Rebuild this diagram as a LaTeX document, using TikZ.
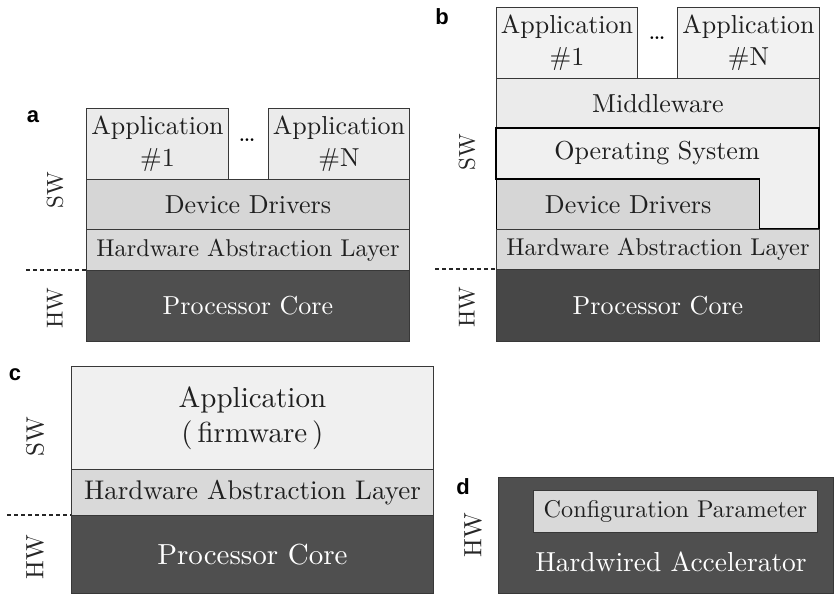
\documentclass[tikz,border=0pt]{standalone}
\usepackage{fontspec}
\setmainfont{lmroman10-regular.otf}
\newfontfamily\panelfont{Liberation Sans}
\newcommand{\fs}[1]{\fontsize{#1}{1.25\dimexpr#1pt\relax}\selectfont}
\begin{document}
\begin{tikzpicture}[x=1pt,y=-1pt,
  layer/.style={draw=black!78, line width=0.9pt, inner sep=0pt, anchor=north west,
    text=black!88, align=center},
  appbox/.style={layer, fill=black!8},
  drvbox/.style={layer, fill=black!16},
  halbox/.style={layer, fill=black!15},
  corebox/.style={layer, fill=black!69, text=white},
  tag/.style={font=\panelfont\bfseries\fontsize{22}{22}\selectfont, inner sep=0pt},
  side/.style={rotate=90, inner sep=0pt, text=black!85},
  border/.style={dash pattern=on 4pt off 3pt, line width=1.1pt, black!85}
]
\useasboundingbox (0,0) rectangle (835,594);

% ---------- panel a ----------
\begin{scope}[font=\fs{26}]
\node[tag] (ta) at (33,117) {a};
\node[appbox, minimum width=142pt, minimum height=71pt] (a1) at (86,108) {Application\\\#1};
\node[appbox, minimum width=141pt, minimum height=71pt] (aN) at (268,108) {Application\\\#N};
\node (adots) at (247,140) {\dots};
\node[drvbox, minimum width=323pt, minimum height=50pt] (adrv) at (86,179) {Device Drivers};
\node[halbox, minimum width=323pt, minimum height=41pt, font=\fs{24.3}] (ahal) at (86,229) {Hardware Abstraction Layer};
\node[corebox, minimum width=323pt, minimum height=71pt] (acore) at (86,270) {Processor Core};
\coordinate (aline) at (26,270);
\draw[border] (aline) -- (acore.north west);
\node[side, font=\fs{23}] (asw) at (55,190) {SW};
\node[side, font=\fs{23}] (ahw) at (55,308) {HW};
\end{scope}

% ---------- panel b ----------
\begin{scope}[font=\fs{26}]
\node[tag] (tb) at (442,17) {b};
\node[appbox, fill=black!5, minimum width=141pt, minimum height=71pt] (b1) at (496,7) {Application\\\#1};
\node[appbox, fill=black!5, minimum width=142pt, minimum height=71pt] (bN) at (677,7) {Application\\\#N};
\node (bdots) at (657,38) {\dots};
\node[appbox, minimum width=323pt, minimum height=50pt] (bmid) at (496,78) {Middleware};
% operating system wraps around the device drivers
\draw[fill=black!6, draw=black, line width=1.5pt] (496,128) -- (819,128) -- (819,229) -- (759,229)
  -- (759,179) -- (496,179) -- cycle;
\node[text=black!88] (bos) at (657,153) {Operating System};
\node[drvbox, draw=black, line width=1.2pt, minimum width=263pt, minimum height=50pt] (bdrv) at (496,179) {Device Drivers};
\node[halbox, minimum width=323pt, minimum height=40pt, font=\fs{24.3}] (bhal) at (496,229) {Hardware Abstraction Layer};
\node[corebox, fill=black!72, minimum width=323pt, minimum height=72pt] (bcore) at (496,269) {Processor Core};
\coordinate (bline) at (435,269);
\draw[border] (bline) -- (bcore.north west);
\node[side, font=\fs{23}] (bsw) at (467,152) {SW};
\node[side, font=\fs{23}] (bhw) at (467,307) {HW};
\end{scope}

% ---------- panel c ----------
\begin{scope}[font=\fs{29}]
\node[tag] (tc) at (15,375) {c};
\node[appbox, fill=black!6, minimum width=362pt, minimum height=103pt, font=\fontsize{29}{35}\selectfont] (capp) at (71,366) {Application\\(\,firmware\,)};
\node[halbox, minimum width=362pt, minimum height=46pt, font=\fs{27}] (chal) at (71,469) {Hardware Abstraction Layer};
\node[corebox, minimum width=362pt, minimum height=78pt] (ccore) at (71,515) {Processor Core};
\coordinate (cline) at (7,515);
\draw[border] (cline) -- (ccore.north west);
\node[side, font=\fs{25}] (csw) at (35,437) {SW};
\node[side, font=\fs{25}] (chw) at (35,557) {HW};
\end{scope}

% ---------- panel d ----------
\begin{scope}[font=\fs{27.5}]
\node[tag] (td) at (463,487) {d};
\node[corebox, minimum width=335pt, minimum height=116pt] (dacc) at (498,477) {};
\node[halbox, fill=black!15, minimum width=284pt, minimum height=42pt, font=\fs{24.2}] (dcfg) at (533,490) {Configuration Parameter};
\node[text=white] (dname) at (671,562) {Hardwired Accelerator};
\node[side, font=\fs{25}] (dhw) at (473,535) {HW};
\end{scope}
\end{tikzpicture}
\end{document}
